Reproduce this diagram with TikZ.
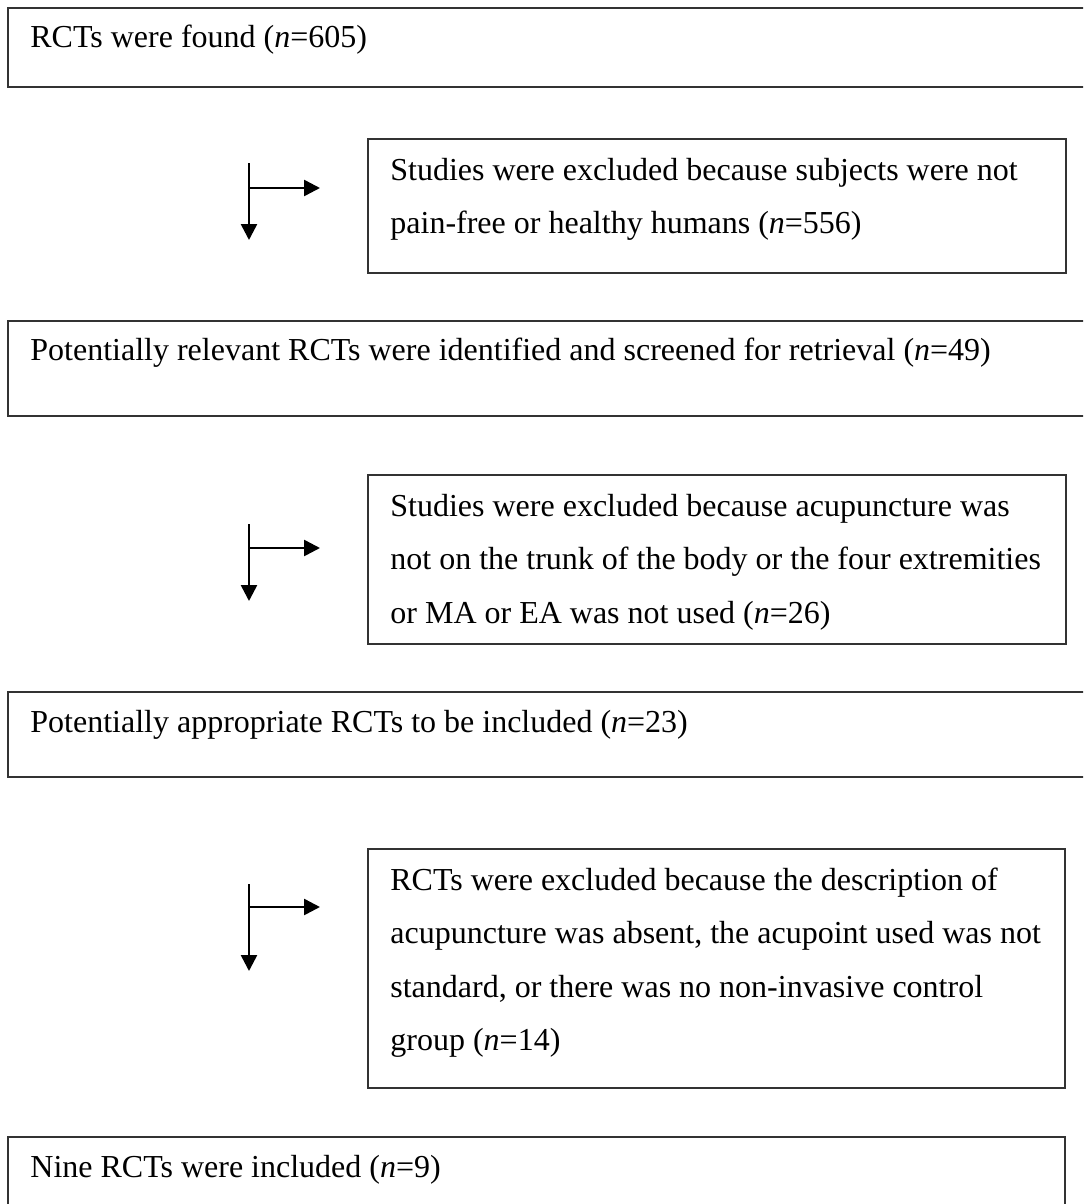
\documentclass[tikz,border=0pt]{standalone}
\usepackage{fontspec}
\setmainfont{Liberation Serif}
\usetikzlibrary{arrows.meta,calc}
\newcommand{\flowtext}[1]{\parbox[t]{700pt}{\fontsize{16pt}{26.75pt}\selectfont #1}}
\tikzset{
  boxline/.style={draw=black!80, line width=1.3pt, fill=none},
  arr/.style={draw=black, line width=1.3pt, -{Triangle[length=8pt,width=8pt]}},
  txt/.style={anchor=base west, inner sep=0pt, text=black}
}
\begin{document}
\begin{tikzpicture}[x=0.5pt,y=-0.5pt]
\useasboundingbox (0,0) rectangle (1083,1204);
\clip (0,0) rectangle (1083,1204);
% boxes
\coordinate (b1) at (8,8);
\draw[boxline] (b1) rectangle (1092,87);
\coordinate (b2) at (368,139);
\draw[boxline] (b2) rectangle (1066,273);
\coordinate (b3) at (8,321);
\draw[boxline] (b3) rectangle (1092,416);
\coordinate (b4) at (368,475);
\draw[boxline] (b4) rectangle (1066,644);
\coordinate (b5) at (8,692);
\draw[boxline] (b5) rectangle (1092,777);
\coordinate (b6) at (368,849);
\draw[boxline] (b6) rectangle (1065,1088);
\coordinate (b7) at (8,1137);
\draw[boxline] (b7) rectangle (1065,1230);
% texts
\node[txt] (t1) at ($(b1)+(22,40)$) {\flowtext{RCTs were found (\textit{n}=605)}};
\node[txt] (t2) at ($(b2)+(22,41)$) {\flowtext{Studies were excluded because subjects were not\\pain-free or healthy humans (\textit{n}=556)}};
\node[txt] (t3) at ($(b3)+(22,39)$) {\flowtext{Potentially relevant RCTs were identified and screened for retrieval (\textit{n}=49)}};
\node[txt] (t4) at ($(b4)+(22,41)$) {\flowtext{Studies were excluded because acupuncture was\\not on the trunk of the body or the four extremities\\or MA or EA was not used (\textit{n}=26)}};
\node[txt] (t5) at ($(b5)+(22,40)$) {\flowtext{Potentially appropriate RCTs to be included (\textit{n}=23)}};
\node[txt] (t6) at ($(b6)+(22,41)$) {\flowtext{RCTs were excluded because the description of\\acupuncture was absent, the acupoint used was not\\standard, or there was no non-invasive control\\group (\textit{n}=14)}};
\node[txt] (t7) at ($(b7)+(22,40)$) {\flowtext{Nine RCTs were included (\textit{n}=9)}};
% arrows
\coordinate (a1s) at (249,163); \coordinate (a1e) at (249,240);
\coordinate (a1b) at (249,188); \coordinate (a1r) at (320,188);
\coordinate (a2s) at (249,524); \coordinate (a2e) at (249,601);
\coordinate (a2b) at (249,548); \coordinate (a2r) at (320,548);
\coordinate (a3s) at (249,884); \coordinate (a3e) at (249,971);
\coordinate (a3b) at (249,907); \coordinate (a3r) at (320,907);
\draw[arr] (a1s) -- (a1e);
\draw[arr] (a1b) -- (a1r);
\draw[arr] (a2s) -- (a2e);
\draw[arr] (a2b) -- (a2r);
\draw[arr] (a3s) -- (a3e);
\draw[arr] (a3b) -- (a3r);
\end{tikzpicture}
\end{document}
